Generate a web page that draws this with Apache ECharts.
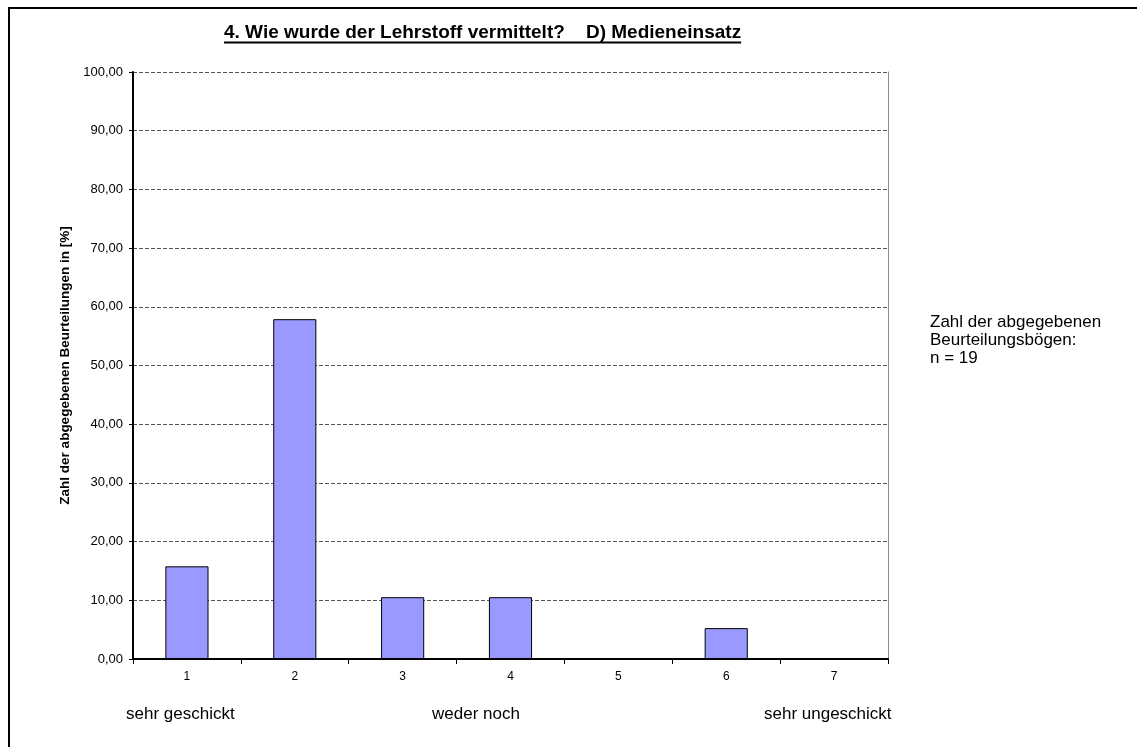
<!DOCTYPE html>
<html>
<head>
<meta charset="utf-8">
<script src="https://cdn.jsdelivr.net/npm/echarts@6/dist/echarts.min.js"></script>
<style>
html,body{margin:0;padding:0;background:#fff;}
#c{width:1137px;height:747px;}
</style>
</head>
<body>
<div id="c"></div>
<script>
var categories = ['1','2','3','4','5','6','7'];
var values = [15.79, 57.89, 10.53, 10.53, 0, 5.26, 0];
var scaleLabels = ['sehr geschickt', 'weder noch', 'sehr ungeschickt'];
var titleText = '4. Wie wurde der Lehrstoff vermittelt?    D) Medieneinsatz';
var yAxisName = 'Zahl der abgegebenen Beurteilungen in [%]';
var noteLines = ['Zahl der abgegebenen', 'Beurteilungsbögen:', 'n = 19'];

var FONT = '"Liberation Sans", Arial, sans-serif';
var TITLE_FONT = 'bold 19px ' + FONT;

function measure(text, font) {
  var ctx = document.createElement('canvas').getContext('2d');
  ctx.font = font;
  return ctx.measureText(text).width;
}
var titleW = measure(titleText, TITLE_FONT);

var chart = echarts.init(document.getElementById('c'));
chart.setOption({
  backgroundColor: '#fff',
  animation: false,
  textStyle: {fontFamily: FONT},
  grid: {left: 133, right: 249, top: 72, bottom: 88},
  xAxis: {
    type: 'category',
    data: categories,
    boundaryGap: true,
    axisLine: {show: true, lineStyle: {color: '#000', width: 2}},
    axisTick: {show: true, alignWithLabel: false, length: 5, lineStyle: {color: '#000', width: 1}},
    axisLabel: {color: '#000', fontSize: 12, margin: 12, fontFamily: FONT},
    splitLine: {show: false}
  },
  yAxis: [{
    type: 'value',
    min: 0, max: 100, interval: 10,
    name: yAxisName,
    nameLocation: 'middle',
    nameGap: 58,
    nameRotate: 90,
    nameTextStyle: {color: '#000', fontSize: 13.5, fontWeight: 'bold', fontFamily: FONT},
    axisLine: {show: true, lineStyle: {color: '#000', width: 2}},
    axisTick: {show: true, length: 4, lineStyle: {color: '#000'}},
    axisLabel: {color: '#000', fontSize: 13, margin: 10, fontFamily: FONT,
      formatter: function (v) { return v.toFixed(2).replace('.', ','); }},
    splitLine: {show: true, lineStyle: {color: '#555', type: [4, 2], width: 1}}
  }, {
    type: 'value',
    position: 'right',
    min: 0, max: 100, interval: 10,
    axisLine: {show: true, lineStyle: {color: '#8a8a8a', width: 1}},
    axisTick: {show: false},
    axisLabel: {show: false},
    splitLine: {show: false}
  }],
  series: [{
    type: 'bar',
    data: values,
    barWidth: '40%',
    itemStyle: {color: '#9999FF', borderColor: '#000', borderWidth: 1}
  }],
  graphic: {elements: [
    {type: 'rect', shape: {x: 9, y: 8, width: 1200, height: 800}, style: {fill: 'none', stroke: '#000', lineWidth: 2}, silent: true},
    {type: 'text', left: 224, top: 23, style: {text: titleText, fill: '#000', font: TITLE_FONT}, z: 10},
    {type: 'line', shape: {x1: 224, y1: 42.5, x2: 224 + titleW, y2: 42.5}, style: {stroke: '#000', lineWidth: 2}, z: 10},
    {type: 'text', left: 126, top: 706, style: {text: scaleLabels[0], fill: '#000', font: '17px ' + FONT}},
    {type: 'text', left: 432, top: 706, style: {text: scaleLabels[1], fill: '#000', font: '17px ' + FONT}},
    {type: 'text', left: 764, top: 706, style: {text: scaleLabels[2], fill: '#000', font: '17px ' + FONT}},
    {type: 'text', left: 930, top: 313, style: {text: noteLines.join('\n'), fill: '#000', font: '17px ' + FONT, lineHeight: 18}}
  ]}
});
</script>
</body>
</html>
